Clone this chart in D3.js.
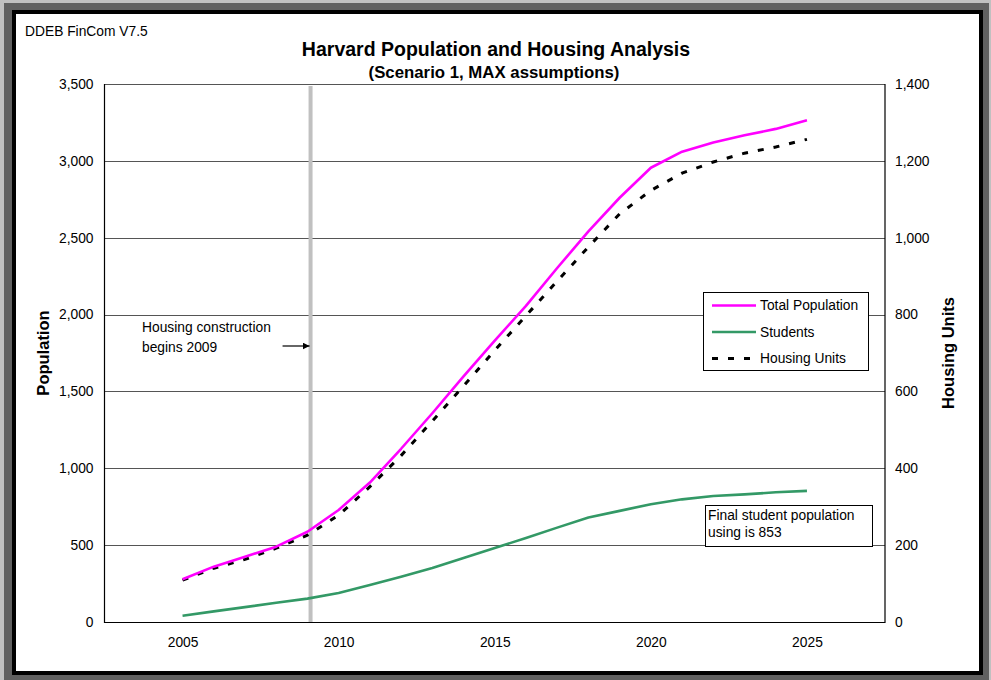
<!DOCTYPE html>
<html>
<head>
<meta charset="utf-8">
<script src="https://cdn.jsdelivr.net/npm/d3@7"></script>
<style>
  html, body { margin: 0; padding: 0; background: #c0c0c0; }
  svg { display: block; font-family: "Liberation Sans", Arial, Helvetica, sans-serif; }
</style>
</head>
<body>
<svg id="chart" width="991" height="680"></svg>
<script>
// Yearly projections, 2005-2025
const years = [2005, 2006, 2007, 2008, 2009, 2010, 2011, 2012, 2013, 2014, 2015,
               2016, 2017, 2018, 2019, 2020, 2021, 2022, 2023, 2024, 2025];
const totalPopulation = [278, 360, 425, 490, 587, 729, 907, 1127, 1358, 1598, 1830,
                         2057, 2303, 2541, 2760, 2955, 3060, 3120, 3166, 3208, 3264];
const students = [41, 69, 97, 125, 152, 189, 240, 295, 352, 416, 481,
                  547, 614, 680, 723, 766, 798, 820, 830, 844, 853];
const housingUnits = [109, 140, 163, 192, 226, 278, 352, 433, 523, 614, 707,
                      797, 887, 976, 1062, 1123, 1168, 1197, 1220, 1236, 1256];

const yearTicks = [2005, 2010, 2015, 2020, 2025];
const populationTicks = [0, 500, 1000, 1500, 2000, 2500, 3000, 3500];
const housingTicks = [0, 200, 400, 600, 800, 1000, 1200, 1400];
const seriesNames = ["Total Population", "Students", "Housing Units"];
const constructionStart = 2009.1;
const finalStudents = students[students.length - 1];

const svg = d3.select("#chart");
const W = 991, H = 680;
const FONT = 13.8;

// Framed page: grey shadow band, black border, white sheet
svg.append("rect").attr("x", 0).attr("y", 0).attr("width", W).attr("height", H).attr("fill", "#c0c0c0");
svg.append("rect").attr("x", 4).attr("y", 3).attr("width", 985).attr("height", 677).attr("fill", "#606060");
svg.append("rect").attr("x", 12).attr("y", 10).attr("width", 971).attr("height", 665).attr("fill", "#000");
svg.append("rect").attr("x", 16).attr("y", 14).attr("width", 963).attr("height", 657).attr("fill", "#fff");

const plot = { left: 104.5, right: 885, top: 84, bottom: 622 };

const x = d3.scaleLinear().domain([2002.5, 2027.5]).range([plot.left, plot.right]);
const yPop = d3.scaleLinear().domain([0, 3500]).range([plot.bottom, plot.top]);
const yHouse = d3.scaleLinear().domain([0, 1400]).range([plot.bottom, plot.top]);
const fmt = d3.format(",");

// Horizontal gridlines
svg.append("g")
  .selectAll("line")
  .data(populationTicks.filter(d => d > 0))
  .join("line")
  .attr("x1", plot.left).attr("x2", plot.right)
  .attr("y1", d => Math.round(yPop(d)) + 0.5).attr("y2", d => Math.round(yPop(d)) + 0.5)
  .attr("stroke", "#555").attr("stroke-width", 1);

// Plot frame (left, right, bottom)
svg.append("path")
  .attr("d", `M${plot.left},${plot.top}V${plot.bottom + 0.5}H${plot.right}V${plot.top}`)
  .attr("fill", "none").attr("stroke", "#000").attr("stroke-width", 1.2);

// Axes
const leftAxis = svg.append("g")
  .attr("transform", `translate(${plot.left},0)`)
  .call(d3.axisLeft(yPop).tickValues(populationTicks).tickFormat(fmt).tickSize(0).tickPadding(11));
const rightAxis = svg.append("g")
  .attr("transform", `translate(${plot.right},0)`)
  .call(d3.axisRight(yHouse).tickValues(housingTicks).tickFormat(fmt).tickSize(0).tickPadding(10));
const bottomAxis = svg.append("g")
  .attr("transform", `translate(0,${plot.bottom})`)
  .call(d3.axisBottom(x).tickValues(yearTicks).tickFormat(d3.format("d")).tickSize(0).tickPadding(15));
[leftAxis, rightAxis, bottomAxis].forEach(g => {
  g.select(".domain").remove();
  g.selectAll("text").attr("font-size", FONT).attr("fill", "#000")
    .attr("font-family", "\"Liberation Sans\", Arial, Helvetica, sans-serif");
});

// Construction start marker
svg.append("line")
  .attr("x1", x(constructionStart)).attr("x2", x(constructionStart))
  .attr("y1", plot.top + 2).attr("y2", plot.bottom)
  .attr("stroke", "#c0c0c0").attr("stroke-width", 4);

// Series lines
const line = (yScale, values) => d3.line()
  .x((d, i) => x(years[i]))
  .y(d => yScale(d))(values);

svg.append("path").attr("d", line(yPop, students))
  .attr("fill", "none").attr("stroke", "#339966").attr("stroke-width", 2.6)
  .attr("stroke-linejoin", "round");
svg.append("path").attr("d", line(yHouse, housingUnits))
  .attr("fill", "none").attr("stroke", "#000").attr("stroke-width", 3)
  .attr("stroke-dasharray", "6,10");
svg.append("path").attr("d", line(yPop, totalPopulation))
  .attr("fill", "none").attr("stroke", "#ff00ff").attr("stroke-width", 2.6)
  .attr("stroke-linejoin", "round");

// Titles
svg.append("text").attr("x", 25).attr("y", 36).attr("font-size", FONT).text("DDEB FinCom V7.5");
svg.append("text").attr("x", 496).attr("y", 56).attr("text-anchor", "middle")
  .attr("font-size", 19.5).attr("font-weight", "bold").text("Harvard Population and Housing Analysis");
svg.append("text").attr("x", 494).attr("y", 78).attr("text-anchor", "middle")
  .attr("font-size", 16.8).attr("font-weight", "bold").text("(Scenario 1, MAX assumptions)");

svg.append("text")
  .attr("transform", `translate(49,${(plot.top + plot.bottom) / 2}) rotate(-90)`)
  .attr("text-anchor", "middle").attr("font-size", 16.5).attr("font-weight", "bold").text("Population");
svg.append("text")
  .attr("transform", `translate(954,${(plot.top + plot.bottom) / 2}) rotate(-90)`)
  .attr("text-anchor", "middle").attr("font-size", 16.5).attr("font-weight", "bold").text("Housing Units");

// Construction note with arrow
svg.append("defs").append("marker")
  .attr("id", "arrow").attr("viewBox", "0 0 10 10").attr("refX", 10).attr("refY", 5)
  .attr("markerWidth", 7).attr("markerHeight", 7).attr("markerUnits", "userSpaceOnUse")
  .attr("orient", "auto")
  .append("path").attr("d", "M0,0L10,5L0,10Z").attr("fill", "#000");
svg.append("text").attr("x", 142).attr("y", 332).attr("font-size", FONT).text("Housing construction");
svg.append("text").attr("x", 142).attr("y", 352).attr("font-size", FONT).text("begins " + Math.floor(constructionStart));
svg.append("line")
  .attr("x1", x(constructionStart) - 28).attr("x2", x(constructionStart) - 1)
  .attr("y1", 346).attr("y2", 346)
  .attr("stroke", "#000").attr("stroke-width", 1.2).attr("marker-end", "url(#arrow)");

// Legend
const legend = svg.append("g").attr("transform", "translate(703,292)");
legend.append("rect").attr("x", 0.5).attr("y", 0.5).attr("width", 165).attr("height", 78)
  .attr("fill", "#fff").attr("stroke", "#000").attr("stroke-width", 1);
const legendStyles = [
  { color: "#ff00ff", dash: null, width: 2.6 },
  { color: "#339966", dash: null, width: 2.6 },
  { color: "#000", dash: "6,10", width: 3 }
];
seriesNames.forEach((name, i) => {
  const cy = 13.5 + i * 26.5;
  legend.append("line").attr("x1", 9).attr("x2", 53).attr("y1", cy).attr("y2", cy)
    .attr("stroke", legendStyles[i].color).attr("stroke-width", legendStyles[i].width)
    .attr("stroke-dasharray", legendStyles[i].dash);
  legend.append("text").attr("x", 57).attr("y", cy).attr("dy", "0.35em")
    .attr("font-size", FONT).text(name);
});

// Final student note
const note = svg.append("g").attr("transform", "translate(705,505)");
note.append("rect").attr("x", 0.5).attr("y", 0.5).attr("width", 167).attr("height", 41)
  .attr("fill", "#fff").attr("stroke", "#000").attr("stroke-width", 1);
note.append("text").attr("x", 3).attr("y", 15).attr("font-size", FONT).text("Final student population");
note.append("text").attr("x", 3).attr("y", 32).attr("font-size", FONT).text("using is " + finalStudents);
</script>
</body>
</html>
